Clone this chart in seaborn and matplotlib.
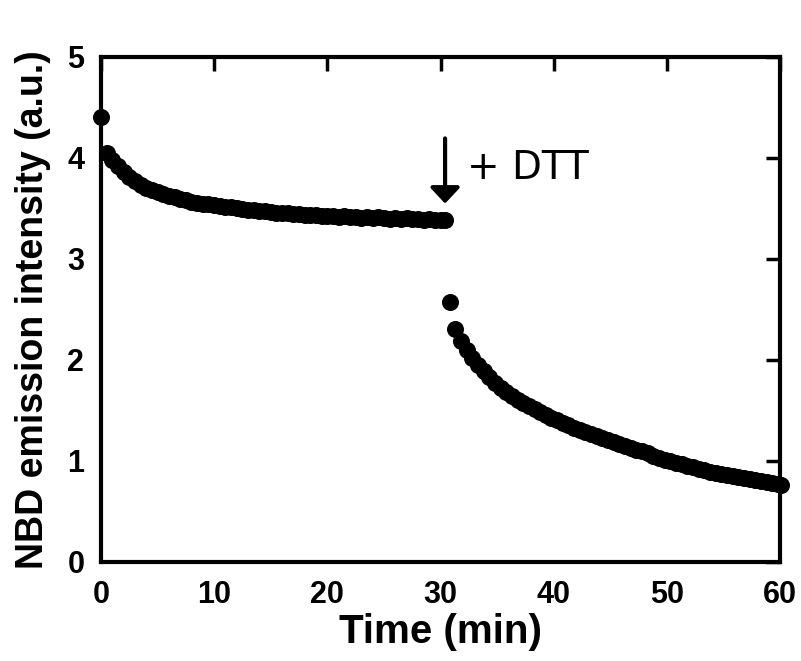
import matplotlib
matplotlib.use("Agg")
import matplotlib.pyplot as plt
import pandas as pd
import seaborn as sns

# before DTT addition (min, a.u.)
time_before = [
    0.0, 0.5, 1.0, 1.5, 2.0, 2.5, 3.0, 3.5, 4.0, 4.5, 5.0, 5.5, 6.0, 6.5, 7.0, 7.5,
    8.0, 8.5, 9.0, 9.5, 10.0, 10.5, 11.0, 11.5, 12.0, 12.5, 13.0, 13.5, 14.0, 14.5,
    15.0, 15.5, 16.0, 16.5, 17.0, 17.5, 18.0, 18.5, 19.0, 19.5, 20.0, 20.5, 21.0,
    21.5, 22.0, 22.5, 23.0, 23.5, 24.0, 24.5, 25.0, 25.5, 26.0, 26.5, 27.0, 27.5,
    28.0, 28.5, 29.0, 29.5, 30.0, 30.4,
]
intensity_before = [
    4.40, 4.05, 3.98, 3.92, 3.86, 3.81, 3.77, 3.73, 3.70, 3.68, 3.66, 3.64, 3.62, 3.61,
    3.59, 3.58, 3.56, 3.55, 3.54, 3.54, 3.53, 3.52, 3.51, 3.51, 3.50, 3.49, 3.48, 3.48,
    3.47, 3.47, 3.46, 3.45, 3.45, 3.45, 3.44, 3.44, 3.43, 3.43, 3.43, 3.42, 3.42, 3.42,
    3.41, 3.42, 3.41, 3.41, 3.40, 3.41, 3.40, 3.41, 3.40, 3.39, 3.40, 3.39, 3.40, 3.39,
    3.39, 3.38, 3.39, 3.38, 3.38, 3.38,
]

# after DTT addition
time_after = [
    30.8, 31.3, 31.8, 32.3, 32.8, 33.3, 33.8, 34.3, 34.8, 35.3, 35.8, 36.3, 36.8, 37.3,
    37.8, 38.3, 38.8, 39.3, 39.8, 40.3, 40.8, 41.3, 41.8, 42.3, 42.8, 43.3, 43.8, 44.3,
    44.8, 45.3, 45.8, 46.3, 46.8, 47.3, 47.8, 48.3, 48.8, 49.3, 49.8, 50.3, 50.8, 51.3,
    51.8, 52.3, 52.8, 53.3, 53.8, 54.3, 54.8, 55.3, 55.8, 56.3, 56.8, 57.3, 57.8, 58.3,
    58.8, 59.3, 59.8, 60.1,
]
intensity_after = [
    2.57, 2.31, 2.19, 2.10, 2.02, 1.95, 1.89, 1.83, 1.77, 1.72, 1.68, 1.64, 1.60, 1.57,
    1.54, 1.51, 1.48, 1.45, 1.42, 1.40, 1.37, 1.35, 1.33, 1.31, 1.29, 1.27, 1.25, 1.23,
    1.21, 1.19, 1.17, 1.15, 1.13, 1.11, 1.10, 1.08, 1.05, 1.03, 1.01, 1.00, 0.98, 0.97,
    0.95, 0.94, 0.92, 0.91, 0.89, 0.88, 0.87, 0.86, 0.85, 0.84, 0.83, 0.82, 0.81, 0.80,
    0.79, 0.78, 0.77, 0.76,
]

x_ticks = [0, 10, 20, 30, 40, 50, 60]
y_ticks = [0, 1, 2, 3, 4, 5]

df = pd.DataFrame({
    "time": time_before + time_after,
    "intensity": intensity_before + intensity_after,
})

sns.set_theme(style="white")
plt.rcParams["font.family"] = ["Liberation Sans", "DejaVu Sans"]
plt.rcParams["text.color"] = "black"
plt.rcParams["axes.labelcolor"] = "black"

fig = plt.figure(figsize=(8.01, 6.61), dpi=100)
ax = fig.add_axes([0.126, 0.150, 0.848, 0.764])

sns.scatterplot(data=df, x="time", y="intensity", color="black", s=150,
                edgecolor="black", linewidth=0, ax=ax, clip_on=False, zorder=3)

ax.set_xlim(0, 60)
ax.set_ylim(0, 5)
ax.set_xticks(x_ticks)
ax.set_yticks(y_ticks)
for side in ["left", "right", "top", "bottom"]:
    ax.spines[side].set_visible(True)
    ax.spines[side].set_linewidth(3)
    ax.spines[side].set_color("black")
ax.tick_params(direction="in", length=10, width=2.5, color="black",
               top=True, right=True, labelsize=22, labelcolor="black")
ax.tick_params(axis="x", pad=13)
ax.tick_params(axis="y", pad=12)
for lbl in ax.get_xticklabels() + ax.get_yticklabels():
    lbl.set_fontweight("bold")

ax.set_xlabel("Time (min)", fontsize=29, fontweight="bold", labelpad=2)
ax.set_ylabel("NBD emission intensity (a.u.)", fontsize=27, fontweight="bold", labelpad=12)

ax.annotate("", xy=(30.4, 3.52), xytext=(30.4, 4.22),
            arrowprops=dict(arrowstyle="-|>,head_length=0.32,head_width=0.3",
                            lw=3, color="black", mutation_scale=30))
ax.text(32.3, 3.79, "+ DTT", fontsize=28, family="DejaVu Sans",
        ha="left", va="baseline", color="black")

fig.savefig("out.png", dpi=100)
